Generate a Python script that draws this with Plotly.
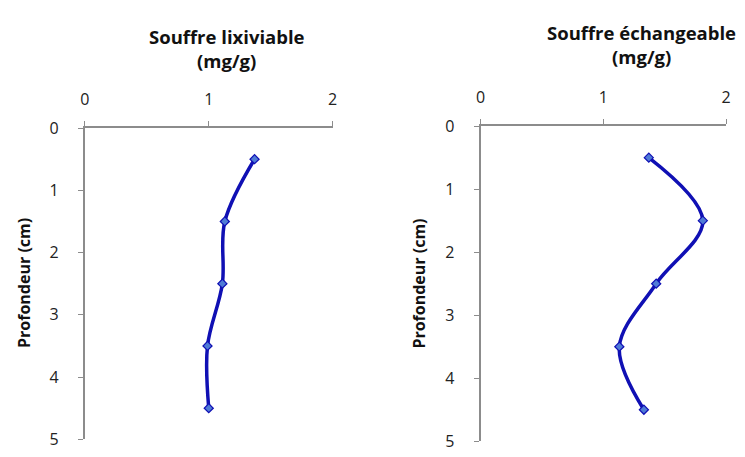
import plotly.graph_objects as go

depth = [0.5, 1.5, 2.5, 3.5, 4.5]
lixiviable = [1.37, 1.13, 1.11, 0.99, 1.00]
echangeable = [1.37, 1.81, 1.43, 1.13, 1.33]
x_ticks = [0, 1, 2]
y_ticks = [0, 1, 2, 3, 4, 5]

W, H = 745, 457
fig = go.Figure()

line_col = "#1010B4"
for y, xa, ya in [(lixiviable, "x", "y"), (echangeable, "x2", "y2")]:
    fig.add_trace(go.Scatter(
        x=y, y=depth, xaxis=xa, yaxis=ya, mode="lines+markers",
        line=dict(color=line_col, width=3.5, shape="spline", smoothing=1.0),
        marker=dict(symbol="diamond", size=7, color="#4F7BD6",
                    line=dict(color="#1010B4", width=1.2)),
        showlegend=False, cliponaxis=False))

font = dict(family="Open Sans, Lato, sans-serif", size=16, color="#222")
axcol = "#8c8c8c"

def xax(dom, anchor):
    return dict(domain=dom, anchor=anchor, side="top", range=[0, 2],
                tickvals=x_ticks, showgrid=False, zeroline=False,
                showline=True, linecolor=axcol, linewidth=2,
                ticks="outside", ticklen=5, tickcolor=axcol, tickwidth=1,
                ticklabelstandoff=10, tickfont=font,
                ticklabeloverflow="allow")

def yax(dom, anchor):
    return dict(domain=dom, anchor=anchor, range=[5, 0],
                tickvals=y_ticks, showgrid=False, zeroline=False,
                showline=True, linecolor=axcol, linewidth=2,
                ticks="outside", ticklen=5, tickcolor=axcol, tickwidth=1,
                ticklabelstandoff=16, tickfont=font,
                ticklabeloverflow="allow")

fig.update_layout(
    width=W, height=H, margin=dict(l=0, r=0, t=0, b=0),
    plot_bgcolor="white", paper_bgcolor="white",
    xaxis=xax([81 / W, 332 / W], "y"),
    yaxis=yax([1 - 450 / H, 1 - 123 / H], "x"),
    xaxis2=xax([482 / W, 731 / W], "y2"),
    yaxis2=yax([1 - 452 / H, 1 - 121 / H], "x2"),
)

tfont = dict(family="Open Sans, Lato, sans-serif", size=18.5, color="#111")
anns = [
    dict(text="<b>Souffre lixiviable</b>", x=225 / W, y=1 - 27 / H),
    dict(text="<b>(mg/g)</b>", x=225 / W, y=1 - 52 / H),
    dict(text="<b>Souffre échangeable</b>", x=645 / W, y=1 - 23 / H),
    dict(text="<b>(mg/g)</b>", x=645 / W, y=1 - 48 / H),
]
for a in anns:
    fig.add_annotation(xref="paper", yref="paper", showarrow=False,
                       xanchor="center", yanchor="middle", font=tfont, **a)
for xp in [20, 420]:
    fig.add_annotation(text="<b>Profondeur (cm)</b>", xref="paper", yref="paper",
                       x=xp / W, y=1 - 286 / H, textangle=-90, showarrow=False,
                       xanchor="center", yanchor="middle",
                       font=dict(family="Open Sans, Lato, sans-serif", size=16, color="#111"))

fig.write_html("out.html", config={"displayModeBar": False},
               post_script="document.body.style.margin='0';document.body.style.overflow='hidden';")
